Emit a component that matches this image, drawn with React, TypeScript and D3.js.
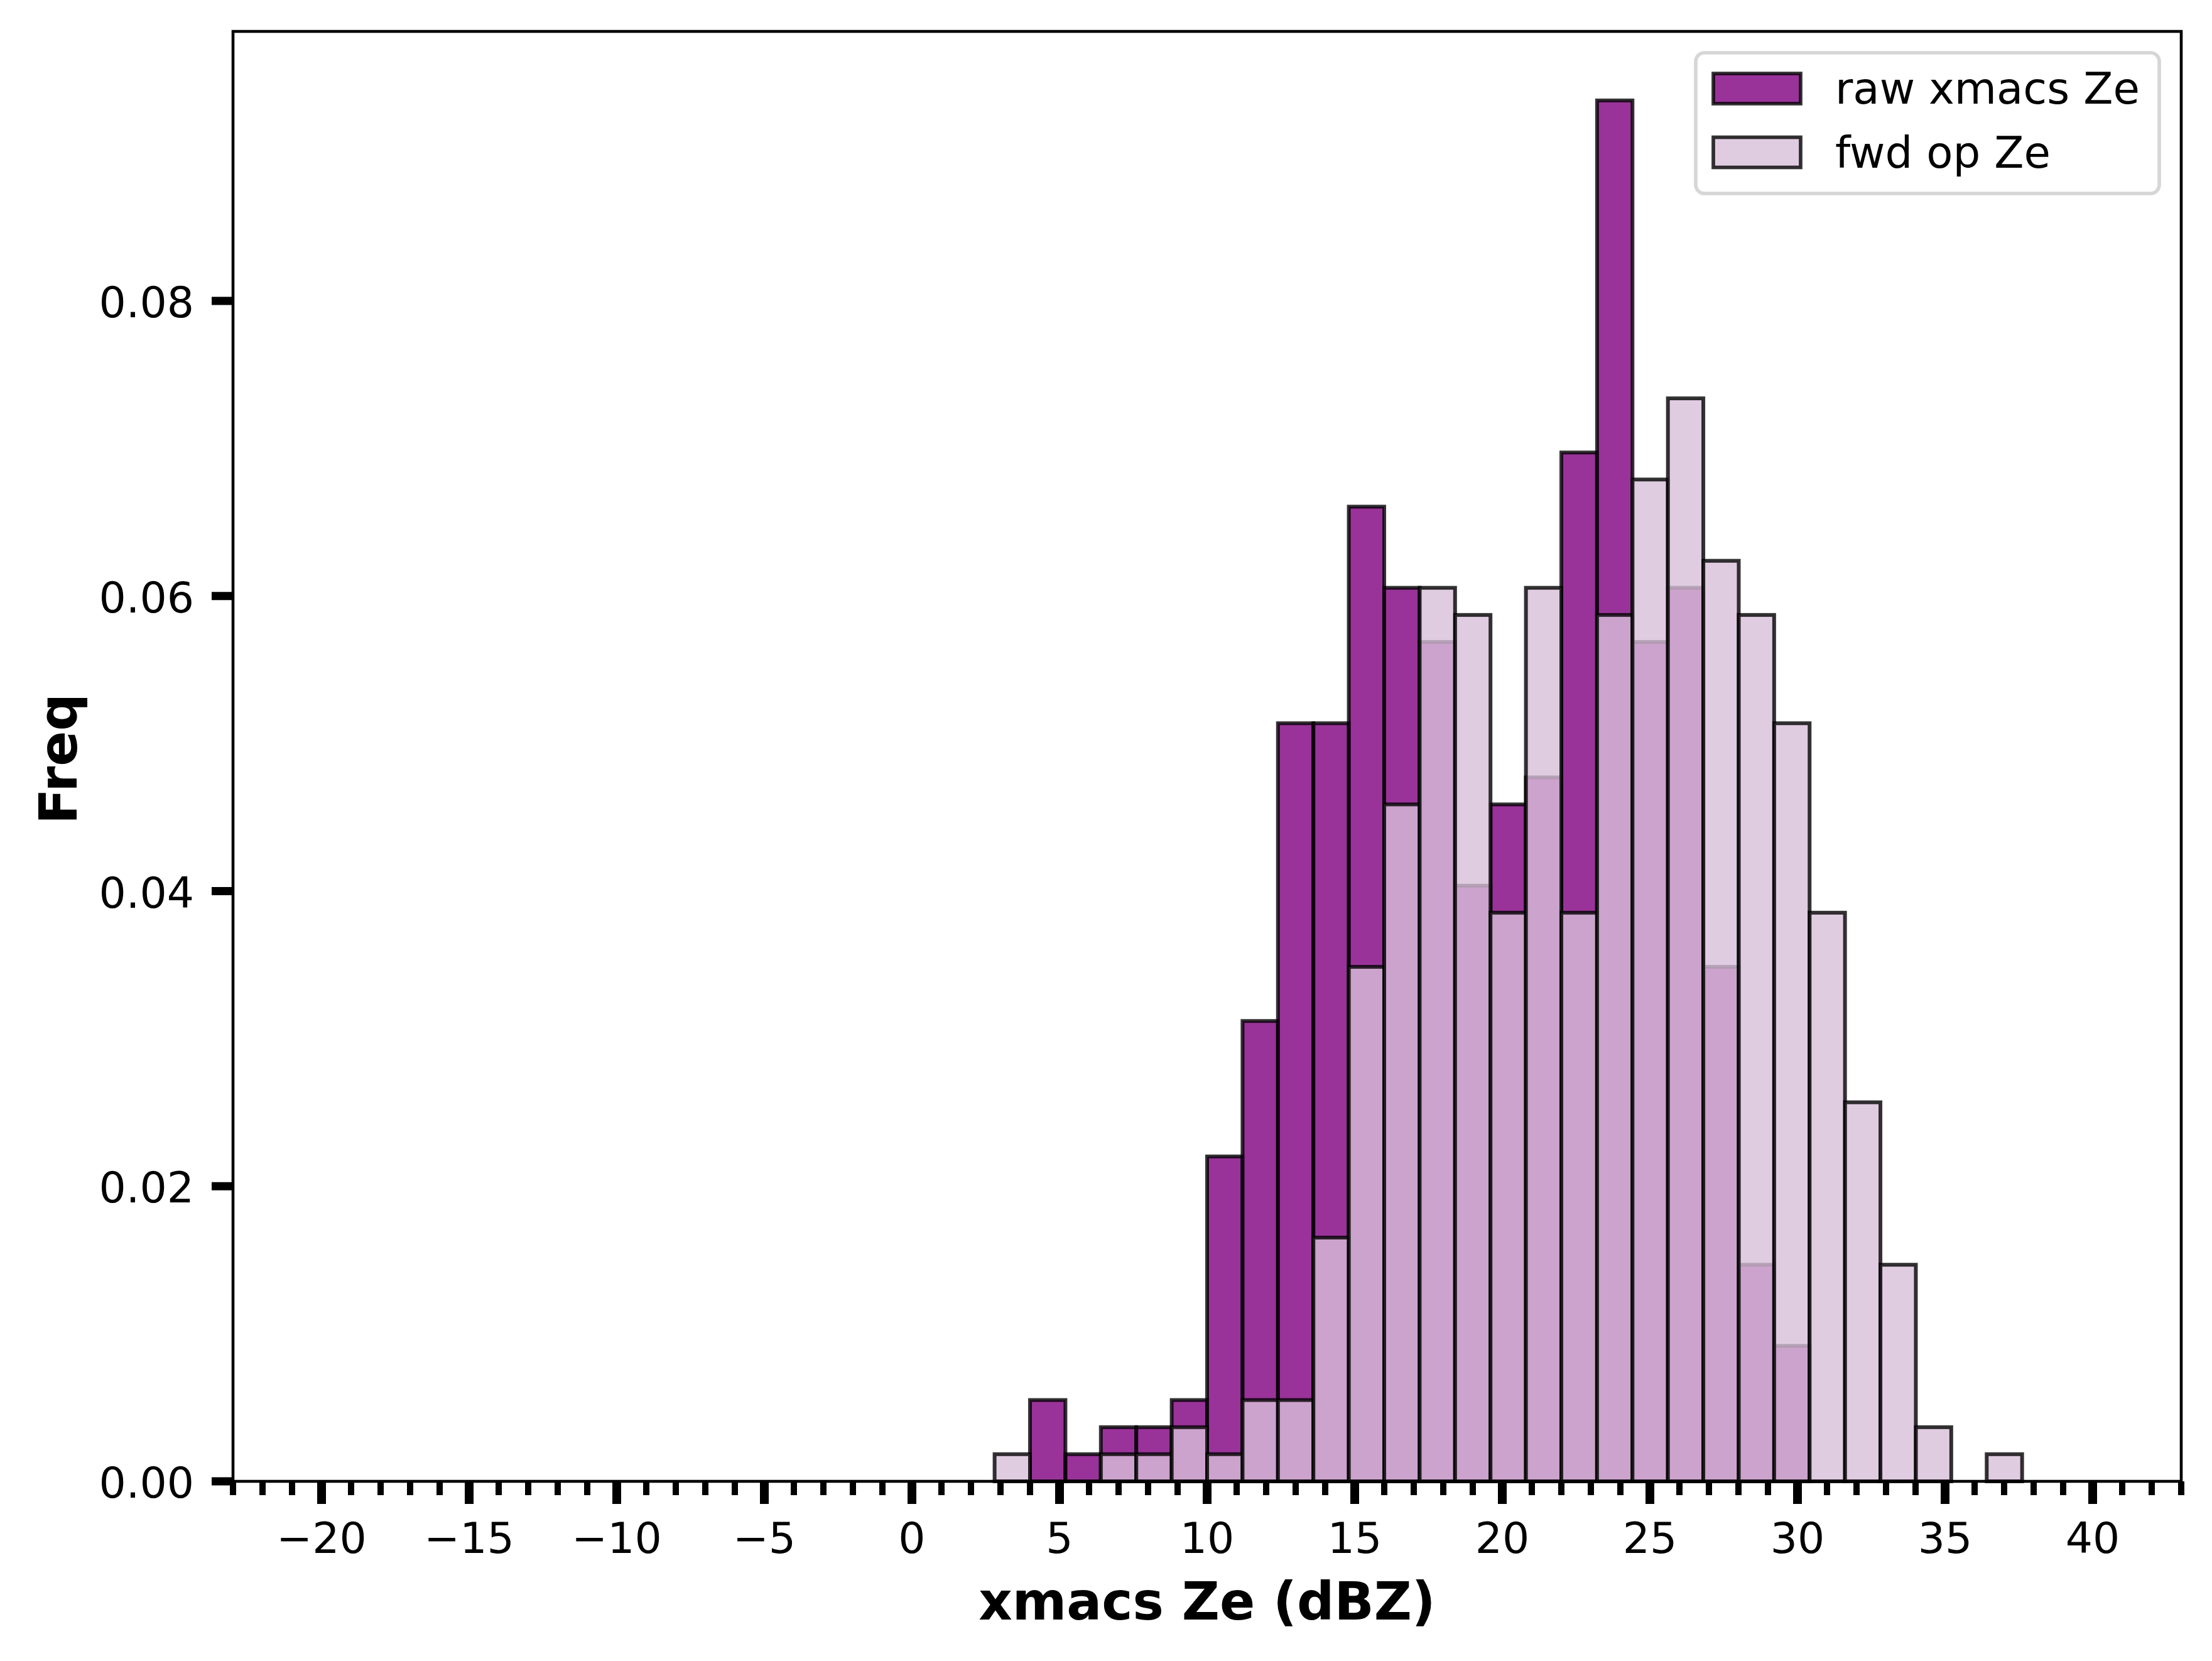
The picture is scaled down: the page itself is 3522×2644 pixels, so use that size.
import { select, scaleLinear, range, max } from 'd3';
import { useEffect, useRef } from 'react';

// histogram bin edges (dBZ), shared by both series
const binEdges = [2.8, 4.0, 5.2, 6.4, 7.6, 8.8, 10.0, 11.2, 12.4, 13.6, 14.8, 16.0, 17.2, 18.4, 19.6,
  20.8, 22.0, 23.21, 24.41, 25.61, 26.81, 28.01, 29.21, 30.41, 31.61, 32.81, 34.01, 35.21, 36.41, 37.61];

// normalised frequency per bin
const rawFreq = [0, 0.00551, 0.00184, 0.00367, 0.00367, 0.00551, 0.02202, 0.0312, 0.05138, 0.05138,
  0.06606, 0.06056, 0.05689, 0.04037, 0.04588, 0.04771, 0.06973, 0.09359, 0.05689, 0.06056,
  0.03487, 0.01468, 0.00918, 0, 0, 0, 0, 0, 0];
const fwdFreq = [0.00184, 0, 0, 0.00184, 0.00184, 0.00367, 0.00184, 0.00551, 0.00551, 0.01652,
  0.03487, 0.04588, 0.06056, 0.05872, 0.03854, 0.06056, 0.03854, 0.05872, 0.0679, 0.0734,
  0.06239, 0.05872, 0.05138, 0.03854, 0.02569, 0.01468, 0.00367, 0, 0.00184];

const seriesLabels = ['raw xmacs Ze', 'fwd op Ze'];
const seriesColors = ['purple', 'thistle'];

const xTicks = [-20, -15, -10, -5, 0, 5, 10, 15, 20, 25, 30, 35, 40];
const yTicks = [0, 0.02, 0.04, 0.06, 0.08];
const xLimits = [-23, 43];

const W = 3522;
const H = 2644;
const FONT = '"DejaVu Sans", sans-serif';

function Histogram() {
  const svgElement = useRef<SVGSVGElement>(null);

  useEffect(() => {
    document.body.style.margin = '0';
    if (svgElement.current == null) return;
    const svg = select(svgElement.current);
    svg.selectAll('*').remove();

    const left = 371, right = 3473, top = 50, bottom = 2358;
    const yMax = (max([...rawFreq, ...fwdFreq]) as number) * 1.05;
    const x = scaleLinear().domain(xLimits).range([left, right]);
    const y = scaleLinear().domain([0, yMax]).range([bottom, top]);

    const plot = svg.append('g');
    [rawFreq, fwdFreq].forEach((vals, si) => {
      plot.append('g')
        .selectAll('rect')
        .data(vals)
        .enter()
        .append('rect')
        .attr('x', (d, i) => x(binEdges[i]))
        .attr('width', (d, i) => x(binEdges[i + 1]) - x(binEdges[i]))
        .attr('y', d => y(d))
        .attr('height', d => y(0) - y(d))
        .attr('fill', seriesColors[si])
        .attr('fill-opacity', 0.8)
        .attr('stroke', 'black')
        .attr('stroke-opacity', 0.8)
        .attr('stroke-width', 6);
    });

    // spines
    svg.append('rect')
      .attr('x', left).attr('y', top)
      .attr('width', right - left).attr('height', bottom - top)
      .attr('fill', 'none').attr('stroke', 'black').attr('stroke-width', 4.6);

    // x ticks
    const minor = range(xLimits[0], xLimits[1] + 1).filter(v => v % 5 !== 0);
    svg.append('g').selectAll('line').data(minor).enter().append('line')
      .attr('x1', d => x(d)).attr('x2', d => x(d))
      .attr('y1', bottom).attr('y2', bottom + 22)
      .attr('stroke', 'black').attr('stroke-width', 10);
    svg.append('g').selectAll('line').data(xTicks).enter().append('line')
      .attr('x1', d => x(d)).attr('x2', d => x(d))
      .attr('y1', bottom).attr('y2', bottom + 36)
      .attr('stroke', 'black').attr('stroke-width', 14);
    svg.append('g').selectAll('text').data(xTicks).enter().append('text')
      .attr('x', d => x(d)).attr('y', 2472)
      .attr('text-anchor', 'middle')
      .attr('font-family', FONT).attr('font-size', 68)
      .text(d => (d < 0 ? '\u2212' + Math.abs(d) : String(d)));

    // y ticks
    svg.append('g').selectAll('line').data(yTicks).enter().append('line')
      .attr('x1', left - 34).attr('x2', left)
      .attr('y1', d => y(d)).attr('y2', d => y(d))
      .attr('stroke', 'black').attr('stroke-width', 13);
    svg.append('g').selectAll('text').data(yTicks).enter().append('text')
      .attr('x', 309).attr('y', d => y(d) + 26)
      .attr('text-anchor', 'end')
      .attr('font-family', FONT).attr('font-size', 68)
      .text(d => d.toFixed(2));

    // axis labels
    svg.append('text')
      .attr('x', (left + right) / 2).attr('y', 2578)
      .attr('text-anchor', 'middle')
      .attr('font-family', FONT).attr('font-size', 83).attr('font-weight', 'bold')
      .text('xmacs Ze (dBZ)');
    svg.append('text')
      .attr('transform', `translate(122,${(top + bottom) / 2 + 4}) rotate(-90)`)
      .attr('text-anchor', 'middle')
      .attr('font-family', FONT).attr('font-size', 83).attr('font-weight', 'bold')
      .text('Freq');

    // legend
    const lg = svg.append('g');
    lg.append('rect')
      .attr('x', 2700).attr('y', 84).attr('width', 738).attr('height', 224)
      .attr('rx', 14).attr('ry', 14)
      .attr('fill', 'white').attr('fill-opacity', 0.8)
      .attr('stroke', '#cccccc').attr('stroke-opacity', 0.8).attr('stroke-width', 5.7);
    seriesLabels.forEach((label, i) => {
      const cy = 141 + i * 101.5;
      lg.append('rect')
        .attr('x', 2728).attr('y', cy - 24).attr('width', 139).attr('height', 48)
        .attr('fill', seriesColors[i]).attr('fill-opacity', 0.8)
        .attr('stroke', 'black').attr('stroke-opacity', 0.8).attr('stroke-width', 5.7);
      lg.append('text')
        .attr('x', 2922).attr('y', cy + 24)
        .attr('font-family', FONT).attr('font-size', 69)
        .text(label);
    });
  }, []);

  return (
    <svg ref={svgElement} width={W} height={H} viewBox={`0 0 ${W} ${H}`}
      style={{ display: 'block', background: 'white' }}></svg>
  );
}

export default function App() {
  return <Histogram />;
}
